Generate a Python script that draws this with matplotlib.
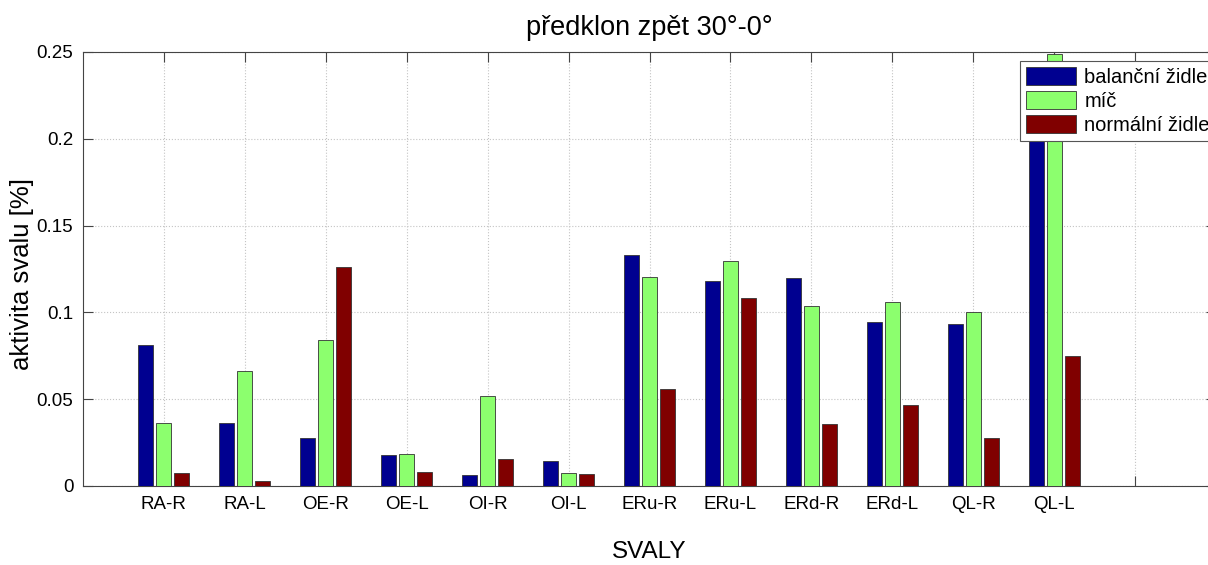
import matplotlib
matplotlib.use('Agg')
import matplotlib.pyplot as plt
import numpy as np

plt.rcParams['font.family'] = ['Liberation Sans', 'DejaVu Sans']

svaly = ['RA-R', 'RA-L', 'OE-R', 'OE-L', 'OI-R', 'OI-L',
         'ERu-R', 'ERu-L', 'ERd-R', 'ERd-L', 'QL-R', 'QL-L']
balancni = [0.0814, 0.0365, 0.0277, 0.0177, 0.0062, 0.0142,
            0.1333, 0.1181, 0.1198, 0.0942, 0.0931, 0.2230]
mic = [0.0365, 0.0660, 0.0842, 0.0185, 0.0519, 0.0073,
       0.1204, 0.1298, 0.1037, 0.1058, 0.1000, 0.2487]
normalni = [0.0073, 0.0030, 0.1262, 0.0079, 0.0156, 0.0067,
            0.0560, 0.1081, 0.0358, 0.0466, 0.0277, 0.0746]
nazvy = ['balanční židle', 'míč', 'normální židle']
barvy = ['#000090', '#8cff6e', '#800000']

W, H = 1208, 565
fig = plt.figure(figsize=(W / 100, H / 100), dpi=100)
ax = fig.add_axes([83 / W, (H - 486) / H, (1216 - 83) / W, (486 - 52) / H])

x = np.arange(1, len(svaly) + 1)
w = 0.185
off = 0.222
for i, (vals, lab, c) in enumerate(zip([balancni, mic, normalni], nazvy, barvy)):
    ax.bar(x + (i - 1) * off, vals, w, color=c, edgecolor='#333333',
           linewidth=0.6, label=lab, zorder=3)

ax.set_xlim(0, 14)
ax.set_ylim(0, 0.25)
ax.set_xticks(np.arange(1, 14))
ax.set_xticklabels(svaly + [''])
ax.set_yticks([0, 0.05, 0.1, 0.15, 0.2, 0.25])
ax.set_yticklabels(['0', '0.05', '0.1', '0.15', '0.2', '0.25'])
ax.tick_params(direction='in', top=True, right=True, length=7,
               labelsize=13.5, color='#444444', pad=7)
ax.grid(True, linestyle=':', color='#c4c4c4', linewidth=0.8, zorder=0)
for s in ax.spines.values():
    s.set_color('#444444')

ax.set_title('předklon zpět 30°-0°', fontsize=19.5, pad=12)
ax.set_ylabel('aktivita svalu [%]', fontsize=18.5)
ax.yaxis.set_label_coords(-0.0432, 0.488)
ax.set_xlabel('SVALY', fontsize=17.5)
ax.xaxis.set_label_coords((649 - 83) / 1133, -0.1256)

leg = ax.legend(loc='upper left', bbox_to_anchor=(1020 / W, 1 - 61 / H),
                bbox_transform=fig.transFigure, borderaxespad=0,
                fontsize=14.5, handlelength=2.5, handleheight=1.0,
                handletextpad=0.4, labelspacing=0.2, borderpad=0.3,
                fancybox=False, framealpha=1, edgecolor='#555555')
leg.get_frame().set_linewidth(0.8)

fig.savefig('out.png', dpi=100)
